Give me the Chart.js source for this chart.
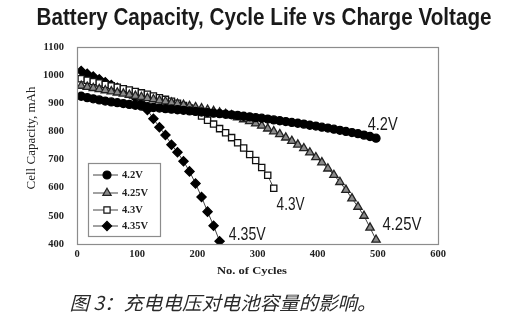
<!DOCTYPE html>
<html>
<head>
<meta charset="utf-8">
<script src="https://cdn.jsdelivr.net/npm/chart.js@4/dist/chart.umd.min.js"></script>
<style>
  body { margin: 0; background: #fff; }
  canvas { display: block; }
</style>
</head>
<body>
<canvas id="chart" width="518" height="328"></canvas>
<script>
// cycle number of each marker (shared by all four curves)
const cycles = [7, 17, 27, 37, 47, 57, 67, 77, 87, 97,
  107, 117, 127, 137, 147, 157, 167, 177, 187, 197,
  207, 217, 227, 237, 247, 257, 267, 277, 287, 297,
  307, 317, 327, 337, 347, 357, 367, 377, 387, 397,
  407, 417, 427, 437, 447, 457, 467, 477, 487, 497];

// cell capacity, mAh
const cap42 = [925, 920, 916, 912, 908, 905, 902, 899, 896, 893,
  890, 888, 885, 883, 881, 879, 877, 875, 873, 871,
  869, 867, 865, 863, 861, 859, 857, 854, 852, 849,
  847, 844, 841, 838, 835, 832, 829, 826, 822, 819,
  815, 812, 808, 804, 800, 796, 792, 787, 782, 776];
const cap425 = [962, 958, 954, 950, 946, 942, 938, 934, 930, 926,
  922, 918, 914, 910, 906, 902, 898, 894, 890, 886,
  882, 877, 872, 867, 862, 857, 850, 843, 836, 828,
  820, 810, 800, 790, 778, 766, 753, 740, 725, 708,
  690, 668, 645, 620, 592, 562, 532, 500, 458, 415];
const cap43 = [987, 982, 977, 972, 967, 962, 957, 952, 947, 942,
  937, 932, 926, 920, 914, 907, 900, 892, 883, 872,
  855, 840, 826, 810, 795, 778, 760, 741, 718, 697,
  672, 644, 598];
const cap435 = [1015, 1005, 995, 985, 975, 965, 955, 945, 935, 920,
  900, 876, 845, 815, 787, 753, 726, 694, 658, 615,
  567, 515, 465, 410];

const seriesNames = ['4.2V', '4.25V', '4.3V', '4.35V'];

// where the curve labels sit, in data units
const labelCycles = [508, 540, 355, 283];
const labelCaps = [821, 467, 538, 432];
const labelWidths = [30, 39, 28, 37];

function pts(values) {
  return values.map((v, i) => ({ x: cycles[i], y: v }));
}

const styles = [
  { pointStyle: 'circle', pointRadius: 4, pointBackgroundColor: '#000', pointBorderColor: '#000' },
  { pointStyle: 'triangle', pointRadius: 4.8, pointBackgroundColor: '#8a8a8a', pointBorderColor: '#222' },
  { pointStyle: 'rect', pointRadius: 4.4, pointBackgroundColor: '#fff', pointBorderColor: '#111' },
  { pointStyle: 'rectRot', pointRadius: 4.6, pointBackgroundColor: '#000', pointBorderColor: '#000' }
];
const allCaps = [cap42, cap425, cap43, cap435];

const datasets = seriesNames.map((name, i) => Object.assign({
  label: name,
  data: pts(allCaps[i]),
  borderColor: '#444',
  borderWidth: 1,
  pointBorderWidth: 1.3,
  tension: 0
}, styles[i]));

function fitText(ctx, text, cx, cy, w, font) {
  ctx.font = font;
  const m = ctx.measureText(text).width;
  ctx.save();
  ctx.translate(cx, cy);
  ctx.scale(w / m, 1);
  ctx.textAlign = 'center';
  ctx.textBaseline = 'middle';
  ctx.fillText(text, 0, 0);
  ctx.restore();
}

const extras = {
  id: 'extras',
  afterDraw(chart) {
    const { ctx, chartArea: a } = chart;
    const xs = chart.scales.x, ys = chart.scales.y;
    ctx.save();

    // plot frame
    ctx.strokeStyle = '#8c8c8c';
    ctx.lineWidth = 1.2;
    ctx.strokeRect(a.left + 0.5, a.top + 0.5, a.right - a.left, a.bottom - a.top);

    // title + caption
    ctx.fillStyle = '#1a1a1a';
    fitText(ctx, 'Battery Capacity, Cycle Life vs Charge Voltage', 264, 18, 455, 'bold 24px "Liberation Sans"');
    ctx.fillStyle = '#2a2a2a';
    fitText(ctx, '图 3：充电电压对电池容量的影响。', 223, 303, 307, 'italic 19px "Noto Sans CJK SC"');

    // axis titles
    ctx.fillStyle = '#222';
    fitText(ctx, 'No. of Cycles', 252, 271, 70, 'bold 11px "Liberation Serif"');
    ctx.save();
    ctx.translate(32, 138);
    ctx.rotate(-Math.PI / 2);
    fitText(ctx, 'Cell Capacity, mAh', 0, 0, 103, '12px "Liberation Serif"');
    ctx.restore();

    // curve labels
    ctx.fillStyle = '#1a1a1a';
    seriesNames.forEach((name, i) => {
      fitText(ctx, name, xs.getPixelForValue(labelCycles[i]), ys.getPixelForValue(labelCaps[i]),
        labelWidths[i], '18px "Liberation Sans"');
    });

    // legend box inside the plot
    const lx = a.left + 11, ly = a.bottom - 81, lw = 72, lh = 73;
    ctx.fillStyle = '#fff';
    ctx.fillRect(lx, ly, lw, lh);
    ctx.strokeStyle = '#8c8c8c';
    ctx.lineWidth = 1.2;
    ctx.strokeRect(lx + 0.5, ly + 0.5, lw, lh);
    const rowY = [12, 30, 47, 63];
    seriesNames.forEach((name, i) => {
      const yy = ly + rowY[i];
      ctx.strokeStyle = '#444';
      ctx.lineWidth = 1;
      ctx.beginPath();
      ctx.moveTo(lx + 5, yy);
      ctx.lineTo(lx + 30, yy);
      ctx.stroke();
      ctx.fillStyle = styles[i].pointBackgroundColor;
      ctx.strokeStyle = styles[i].pointBorderColor;
      ctx.lineWidth = 1.2;
      Chart.helpers.drawPoint(ctx, {
        pointStyle: styles[i].pointStyle,
        radius: styles[i].pointRadius,
        rotation: 0,
        borderWidth: 1.2
      }, lx + 19, yy);
      ctx.fillStyle = '#222';
      ctx.font = 'bold 10.5px "Liberation Serif"';
      ctx.textAlign = 'left';
      ctx.textBaseline = 'middle';
      ctx.fillText(name, lx + 34, yy);
    });

    ctx.restore();
  }
};

const tickFont = { family: 'Liberation Serif', size: 10.5, weight: 'bold' };

new Chart(document.getElementById('chart'), {
  type: 'line',
  data: { datasets },
  options: {
    responsive: false,
    animation: false,
    layout: { padding: { left: 0, top: 47, right: 80, bottom: 0 } },
    plugins: { legend: { display: false }, tooltip: { enabled: false } },
    scales: {
      x: {
        type: 'linear', min: 0, max: 600,
        ticks: { stepSize: 100, padding: 4, color: '#222', font: tickFont, maxRotation: 0,
          callback: v => String(v) },
        grid: { display: false, drawTicks: false },
        border: { display: false },
        afterFit(s) { s.height = 84; }
      },
      y: {
        min: 400, max: 1100,
        ticks: { stepSize: 100, padding: 13, color: '#222', font: tickFont,
          callback: v => String(v) },
        grid: { display: false, drawTicks: false },
        border: { display: false },
        afterFit(s) { s.width = 77; }
      }
    }
  },
  plugins: [extras]
});
</script>
</body>
</html>
